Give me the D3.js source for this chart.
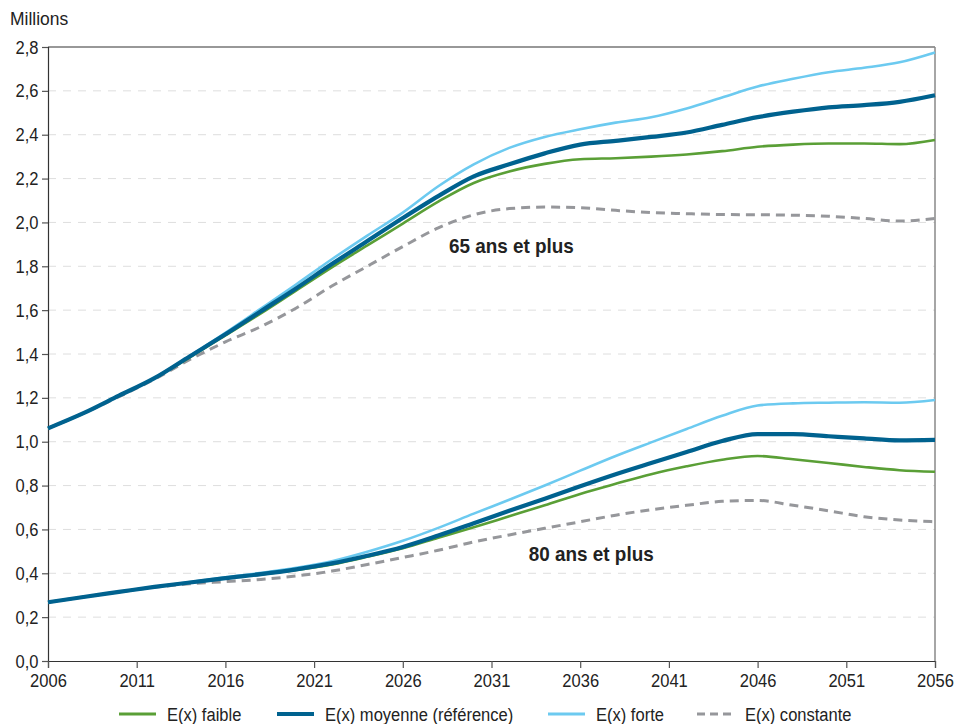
<!DOCTYPE html>
<html>
<head>
<meta charset="utf-8">
<script src="https://cdn.jsdelivr.net/npm/d3@7"></script>
<style>
  body { margin: 0; background: #fff; }
  svg { font-family: "Liberation Sans", Arial, sans-serif; }
</style>
</head>
<body>
<div id="chart"></div>
<script>
// years every 2 years
const years = d3.range(2006, 2057, 2);
const xTicks = d3.range(2006, 2057, 5);
const yTicks = d3.range(0, 2.81, 0.2);

// 65 ans et plus
const faible65 = [1.061, 1.13, 1.21, 1.29, 1.385, 1.485, 1.585, 1.69, 1.795, 1.895, 1.995, 2.095, 2.18, 2.232, 2.267, 2.288, 2.293, 2.30, 2.31, 2.325, 2.345, 2.355, 2.36, 2.36, 2.357, 2.376];
const moyenne65 = [1.061, 1.13, 1.21, 1.29, 1.39, 1.49, 1.595, 1.70, 1.81, 1.915, 2.02, 2.12, 2.21, 2.265, 2.315, 2.355, 2.372, 2.39, 2.41, 2.445, 2.48, 2.505, 2.525, 2.535, 2.55, 2.58];
const forte65 = [1.061, 1.13, 1.21, 1.29, 1.392, 1.497, 1.607, 1.718, 1.832, 1.94, 2.045, 2.165, 2.265, 2.34, 2.39, 2.425, 2.455, 2.48, 2.52, 2.57, 2.62, 2.655, 2.685, 2.705, 2.73, 2.775];
const constante65 = [1.061, 1.13, 1.205, 1.285, 1.375, 1.455, 1.525, 1.61, 1.71, 1.80, 1.89, 1.975, 2.035, 2.063, 2.07, 2.067, 2.055, 2.045, 2.04, 2.036, 2.035, 2.033, 2.028, 2.018, 2.006, 2.018];

// 80 ans et plus
const faible80 = [0.268, 0.292, 0.315, 0.338, 0.358, 0.378, 0.395, 0.415, 0.44, 0.475, 0.514, 0.562, 0.61, 0.66, 0.71, 0.762, 0.808, 0.852, 0.888, 0.918, 0.935, 0.92, 0.903, 0.885, 0.87, 0.863];
const moyenne80 = [0.268, 0.292, 0.315, 0.338, 0.358, 0.378, 0.396, 0.418, 0.445, 0.48, 0.52, 0.572, 0.628, 0.685, 0.74, 0.797, 0.852, 0.903, 0.953, 1.003, 1.035, 1.035, 1.025, 1.015, 1.006, 1.008];
const forte80 = [0.268, 0.292, 0.315, 0.338, 0.36, 0.382, 0.402, 0.425, 0.455, 0.498, 0.548, 0.607, 0.672, 0.735, 0.8, 0.868, 0.935, 0.997, 1.058, 1.118, 1.165, 1.175, 1.178, 1.18, 1.178, 1.19];
const constante80 = [0.268, 0.292, 0.315, 0.336, 0.352, 0.362, 0.372, 0.388, 0.41, 0.44, 0.472, 0.505, 0.543, 0.575, 0.605, 0.635, 0.665, 0.69, 0.71, 0.728, 0.732, 0.71, 0.685, 0.658, 0.643, 0.635];

const seriesNames = ["E(x) faible", "E(x) moyenne (référence)", "E(x) forte", "E(x) constante"];

const styles = {
  "E(x) faible": { color: "#5a9f36", width: 2.6, dash: null },
  "E(x) moyenne (référence)": { color: "#00628f", width: 4.2, dash: null },
  "E(x) forte": { color: "#6ccaf0", width: 2.6, dash: null },
  "E(x) constante": { color: "#96979b", width: 3, dash: "9,6" }
};

const lines = [
  { name: "E(x) constante", values: constante65 },
  { name: "E(x) faible", values: faible65 },
  { name: "E(x) forte", values: forte65 },
  { name: "E(x) moyenne (référence)", values: moyenne65 },
  { name: "E(x) constante", values: constante80 },
  { name: "E(x) faible", values: faible80 },
  { name: "E(x) forte", values: forte80 },
  { name: "E(x) moyenne (référence)", values: moyenne80 }
];

const width = 969, height = 724;
const margin = { top: 47, right: 34, bottom: 63, left: 48 };
const squeeze = "scale(0.87,1)"; // narrow look of the original typeface

const svg = d3.select("#chart").append("svg")
  .attr("width", width)
  .attr("height", height);

const x = d3.scaleLinear().domain([2006, 2056]).range([margin.left, width - margin.right]);
const y = d3.scaleLinear().domain([0, 2.8]).range([height - margin.bottom, margin.top]);

// grid
svg.append("g")
  .selectAll("line")
  .data(yTicks.filter(d => d > 0.01 && d < 2.79))
  .join("line")
  .attr("x1", x(2006)).attr("x2", x(2056))
  .attr("y1", d => y(d)).attr("y2", d => y(d))
  .attr("stroke", "#dedede")
  .attr("stroke-width", 1)
  .attr("stroke-dasharray", "8,7");

// frame top and right
svg.append("line")
  .attr("x1", x(2006)).attr("x2", x(2056))
  .attr("y1", y(2.8)).attr("y2", y(2.8))
  .attr("stroke", "#333").attr("stroke-width", 1.2);
svg.append("line")
  .attr("x1", x(2056)).attr("x2", x(2056))
  .attr("y1", y(2.8)).attr("y2", y(0))
  .attr("stroke", "#888").attr("stroke-width", 1.5);

// axes
const fmt = d => d3.format(".1f")(d).replace(".", ",");

const yAxis = svg.append("g")
  .attr("transform", `translate(${margin.left},0)`)
  .call(d3.axisLeft(y).tickValues(yTicks).tickFormat(fmt).tickSize(6).tickPadding(5));

const xAxis = svg.append("g")
  .attr("transform", `translate(0,${height - margin.bottom})`)
  .call(d3.axisBottom(x).tickValues(xTicks).tickFormat(d3.format("d")).tickSize(7).tickPadding(6));

[xAxis, yAxis].forEach(g => {
  g.select(".domain").attr("stroke", "#333").attr("stroke-width", 1.2);
  g.selectAll(".tick line").attr("stroke", "#555").attr("stroke-width", 1.2);
  g.selectAll("text").attr("fill", "#222").style("font-size", "19px")
    .style("font-family", "'Liberation Sans', Arial, sans-serif")
    .attr("transform", squeeze);
});

svg.append("g")
  .attr("transform", "translate(10,25)")
  .append("text")
  .attr("transform", "scale(0.92,1)")
  .attr("fill", "#222")
  .style("font-size", "19px")
  .text("Millions");

// series
const line = d3.line()
  .x((d, i) => x(years[i]))
  .y(d => y(d))
  .curve(d3.curveMonotoneX);

svg.append("g")
  .selectAll("path")
  .data(lines)
  .join("path")
  .attr("fill", "none")
  .attr("stroke", d => styles[d.name].color)
  .attr("stroke-width", d => styles[d.name].width)
  .attr("stroke-dasharray", d => styles[d.name].dash)
  .attr("stroke-linejoin", "round")
  .attr("d", d => line(d.values));

// group labels
const groupLabels = [
  { text: "65 ans et plus", year: 2028.6, value: 1.86 },
  { text: "80 ans et plus", year: 2033.1, value: 0.457 }
];
svg.append("g")
  .selectAll("g")
  .data(groupLabels)
  .join("g")
  .attr("transform", d => `translate(${x(d.year)},${y(d.value)})`)
  .append("text")
  .attr("transform", "scale(0.9,1)")
  .attr("fill", "#222").style("font-size", "21px").style("font-weight", "bold")
  .text(d => d.text);

// legend
const legendX = [119, 277, 548, 697];
const legend = svg.append("g")
  .selectAll("g")
  .data(seriesNames)
  .join("g")
  .attr("transform", (d, i) => `translate(${legendX[i]},714)`);

legend.append("line")
  .attr("x1", 0).attr("x2", 37)
  .attr("stroke", d => styles[d].color)
  .attr("stroke-width", d => d === "E(x) moyenne (référence)" ? 4 : 3)
  .attr("stroke-dasharray", d => d === "E(x) constante" ? "8,5" : null);

legend.append("g")
  .attr("transform", "translate(48,7)")
  .append("text")
  .attr("transform", squeeze)
  .attr("fill", "#222")
  .style("font-size", "19px")
  .text(d => d);
</script>
</body>
</html>
